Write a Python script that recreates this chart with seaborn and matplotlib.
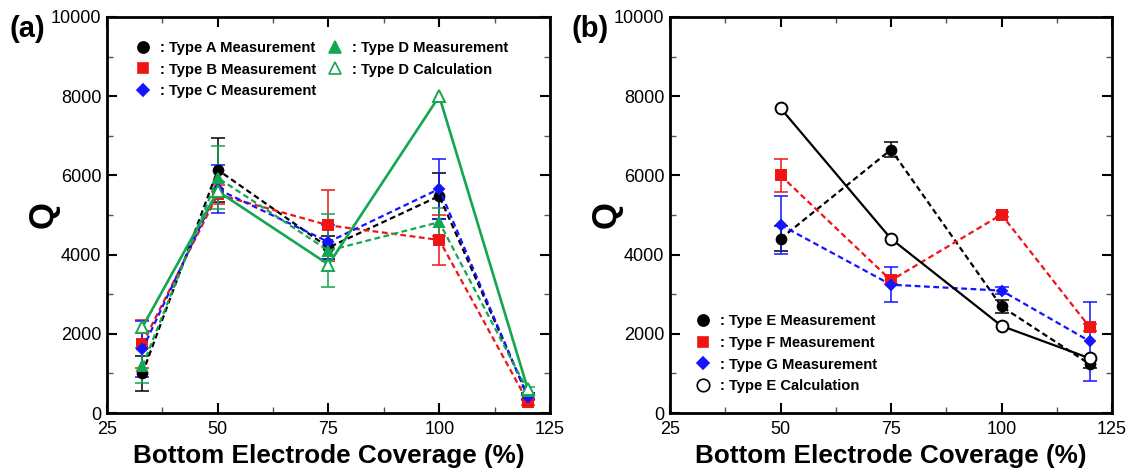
import numpy as np
import pandas as pd
import matplotlib
matplotlib.use('Agg')
import matplotlib.pyplot as plt
import seaborn as sns
from matplotlib.lines import Line2D
from matplotlib.ticker import MultipleLocator

# данные панели (a)
coverage_a = [33, 50, 75, 100, 120]
typeA_meas = [1000, 6140, 4180, 5480, 430]
typeA_err = [440, 810, 300, 580, 80]
typeB_meas = [1750, 5520, 4740, 4370, 280]
typeB_err = [610, 250, 890, 630, 80]
typeC_meas = [1610, 5650, 4320, 5660, 400]
typeC_err = [710, 600, 420, 750, 80]
typeD_meas = [1190, 5940, 4100, 4820, 560]
typeD_err = [440, 790, 930, 345, 100]
typeD_calc = [2170, 5600, 3750, 8000, 600]

# данные панели (b)
coverage_b = [50, 75, 100, 120]
typeE_meas = [4400, 6650, 2690, 1230]
typeE_err = [320, 190, 170, 100]
typeF_meas = [6000, 3350, 5010, 2160]
typeF_err = [420, 100, 60, 80]
typeG_meas = [4750, 3240, 3090, 1810]
typeG_err = [730, 440, 80, 990]
typeE_calc = [7700, 4400, 2200, 1380]

BLACK = '#000000'
RED = '#f01414'
BLUE = '#1414ff'
GREEN = '#14a650'
DASH = (0, (2.6, 1.6))

sns.set_style("ticks")
plt.rcParams['font.family'] = ['Liberation Sans', 'DejaVu Sans']
plt.rcParams['text.color'] = 'black'
plt.rcParams['axes.labelcolor'] = 'black'
plt.rcParams['xtick.color'] = 'black'
plt.rcParams['ytick.color'] = 'black'
plt.rcParams['axes.edgecolor'] = 'black'


def draw(ax, x, y, err, color, marker, ls, filled=True, lw=1.6, ms=7):
    if err is not None:
        ax.errorbar(x, y, yerr=err, fmt='none', ecolor=color, elinewidth=1.1,
                    capsize=5, capthick=1.1, zorder=2)
    df = pd.DataFrame({'x': x, 'y': y})
    sns.lineplot(data=df, x='x', y='y', ax=ax, color=color, marker=marker,
                 linestyle=ls, lw=lw, markersize=ms,
                 markerfacecolor=color if filled else 'white',
                 markeredgecolor=color, markeredgewidth=1.4,
                 errorbar=None, legend=False, zorder=3)


def style_axis(ax):
    ax.set_xlim(25, 125)
    ax.set_ylim(0, 10000)
    ax.xaxis.set_major_locator(MultipleLocator(25))
    ax.xaxis.set_minor_locator(MultipleLocator(12.5))
    ax.yaxis.set_major_locator(MultipleLocator(2000))
    ax.yaxis.set_minor_locator(MultipleLocator(1000))
    ax.tick_params(which='both', direction='in', top=True, right=True,
                   labelsize=13, labelcolor='black')
    ax.tick_params(axis='x', which='major', pad=6)
    ax.tick_params(axis='y', which='major', pad=4)
    ax.tick_params(which='major', length=7, width=1.5)
    ax.tick_params(which='minor', length=4, width=1.0, color='#555555')
    for s in ax.spines.values():
        s.set_linewidth(2)
    ax.set_xlabel('Bottom Electrode Coverage (%)', fontsize=18.8, fontweight='bold')
    ax.set_ylabel('Q', fontsize=25, fontweight='bold')
    ax.xaxis.set_label_coords(0.5, -0.077)
    ax.yaxis.set_label_coords(-0.108, 0.5)


fig = plt.figure(figsize=(11.31, 4.68), dpi=100)
ax1 = fig.add_axes([0.0946, 0.1175, 0.3917, 0.8462])
ax2 = fig.add_axes([0.5924, 0.1175, 0.3908, 0.8462])

# панель (a)
draw(ax1, coverage_a, typeA_meas, typeA_err, BLACK, 'o', DASH)
draw(ax1, coverage_a, typeB_meas, typeB_err, RED, 's', DASH, ms=6.5)
draw(ax1, coverage_a, typeC_meas, typeC_err, BLUE, 'D', DASH, ms=5.5)
draw(ax1, coverage_a, typeD_meas, typeD_err, GREEN, '^', DASH)
draw(ax1, coverage_a, typeD_calc, None, GREEN, '^', '-', filled=False, lw=1.9, ms=8)

# панель (b)
draw(ax2, coverage_b, typeE_meas, typeE_err, BLACK, 'o', DASH)
draw(ax2, coverage_b, typeF_meas, typeF_err, RED, 's', DASH, ms=6.5)
draw(ax2, coverage_b, typeG_meas, typeG_err, BLUE, 'D', DASH, ms=5.5)
draw(ax2, coverage_b, typeE_calc, None, BLACK, 'o', '-', filled=False, lw=1.6, ms=8.5)

style_axis(ax1)
style_axis(ax2)


def handle(color, marker, filled=True, ms=8):
    return Line2D([], [], ls='none', marker=marker, color=color, markersize=ms,
                  markerfacecolor=color if filled else 'none', markeredgewidth=1.2)


leg_a = [handle(BLACK, 'o'), handle(RED, 's', ms=7.5), handle(BLUE, 'D', ms=6),
         handle(GREEN, '^'), handle(GREEN, '^', filled=False, ms=9)]
lab_a = [': Type A Measurement', ': Type B Measurement', ': Type C Measurement',
         ': Type D Measurement', ': Type D Calculation']
ax1.legend(leg_a, lab_a, ncol=2, loc='upper left', bbox_to_anchor=(0.065, 0.94),
           frameon=False, handlelength=1.0, handletextpad=0.65, labelspacing=0.53,
           columnspacing=0.8, borderpad=0, borderaxespad=0,
           prop={'weight': 'bold', 'size': 10.6})

leg_b = [handle(BLACK, 'o'), handle(RED, 's', ms=7.5), handle(BLUE, 'D', ms=6),
         handle(BLACK, 'o', filled=False, ms=9)]
lab_b = [': Type E Measurement', ': Type F Measurement', ': Type G Measurement',
         ': Type E Calculation']
ax2.legend(leg_b, lab_b, loc='upper left', bbox_to_anchor=(0.058, 0.25),
           frameon=False, handlelength=1.0, handletextpad=0.65, labelspacing=0.53,
           borderpad=0, borderaxespad=0, prop={'weight': 'bold', 'size': 10.6})

fig.text(0.008, 0.939, '(a)', fontsize=21, fontweight='bold', va='center')
fig.text(0.505, 0.939, '(b)', fontsize=21, fontweight='bold', va='center')

fig.savefig('out.png', dpi=100)
